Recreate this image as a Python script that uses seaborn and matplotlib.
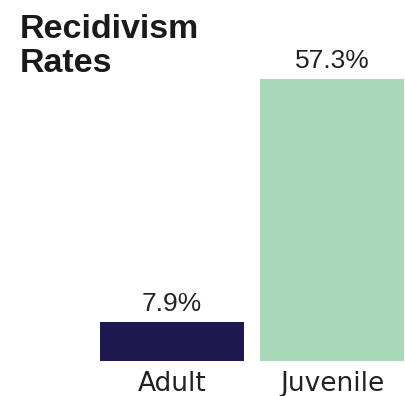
import matplotlib
matplotlib.use("Agg")
import matplotlib.pyplot as plt
import seaborn as sns
import pandas as pd

categories = ["Adult", "Juvenile"]
rates = [7.9, 57.3]
value_labels = ["7.9%", "57.3%"]
colors = ["#1e1850", "#a8d8b8"]

sns.set_theme(style="white")
plt.rcParams['font.family'] = ['DejaVu Sans']

df = pd.DataFrame({"category": categories, "rate": rates})

fig = plt.figure(figsize=(4.06, 3.96), dpi=100)
ax = fig.add_axes([100/406, 35/396, 304/406, 282/396])
sns.barplot(data=df, x="category", y="rate", hue="category", palette=colors,
            width=0.9, legend=False, ax=ax, saturation=1, linewidth=0)
ax.set_xlim(-0.45, 1.45)
ax.set_ylim(0, 57.3)
for i, (v, lab) in enumerate(zip(rates, value_labels)):
    ax.annotate(lab, (i, v), xytext=(0, 11), textcoords="offset pixels",
                ha="center", va="baseline", fontsize=19,
                family=["Liberation Sans", "DejaVu Sans"], color="#222222",
                annotation_clip=False)
ax.set_xlabel("")
ax.set_ylabel("")
ax.set_yticks([])
ax.tick_params(axis="x", length=0, labelsize=19, pad=7, colors="#222222")
for s in ax.spines.values():
    s.set_visible(False)

fig.text(20/406, 1 - 14/396, "Recidivism\nRates", ha="left", va="top",
         fontsize=24.5, fontweight="bold", family=["Liberation Sans", "DejaVu Sans"],
         color="#1a1a1a", linespacing=1.12)

fig.savefig("out.png", dpi=100)
